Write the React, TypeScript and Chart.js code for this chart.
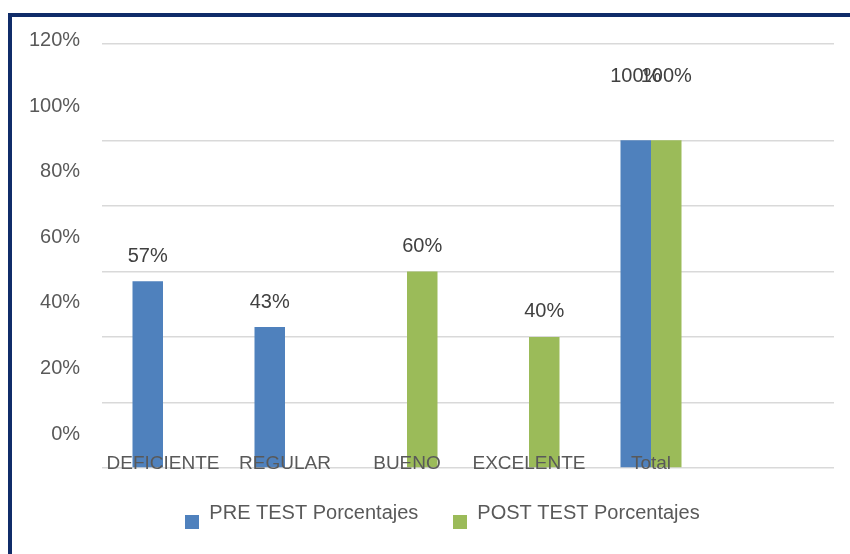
import React, { useEffect, useRef } from "react";
import { Chart, registerables } from "chart.js";

Chart.register(...registerables);

const categories = ["DEFICIENTE", "REGULAR", "BUENO", "EXCELENTE", "Total", ""];
const preTest = [0.57, 0.43, null, null, 1.0, null];
const postTest = [null, null, 0.6, 0.4, 1.0, null];
const seriesNames = ["PRE TEST Porcentajes", "POST TEST Porcentajes"];
const seriesColors = ["#4f81bd", "#9bbb59"];
const yTickValues = [0, 0.2, 0.4, 0.6, 0.8, 1.0, 1.2];
const yTickLabels = ["0%", "20%", "40%", "60%", "80%", "100%", "120%"];
const Y_MAX = 1.294;

const FONT = "'Liberation Sans', Arial, sans-serif";
const fmt = (v: number) => Math.round(v * 100) + "%";

function makeMarker(color: string) {
  const c = document.createElement("canvas");
  c.width = 14;
  c.height = 34;
  const g = c.getContext("2d")!;
  g.fillStyle = color;
  g.fillRect(0, 19, 14, 14);
  return c;
}

const dataLabels = {
  id: "dataLabels",
  afterDatasetsDraw(chart: any) {
    const ctx = chart.ctx;
    ctx.save();
    ctx.font = `20px ${FONT}`;
    ctx.fillStyle = "#404040";
    ctx.textAlign = "center";
    ctx.textBaseline = "middle";
    chart.data.datasets.forEach((ds: any, i: number) => {
      const meta = chart.getDatasetMeta(i);
      meta.data.forEach((bar: any, j: number) => {
        const v = ds.data[j];
        if (v == null) return;
        const gap = v >= 1 ? 64 : 25;
        ctx.fillText(fmt(v), bar.x, bar.y - gap);
      });
    });
    ctx.restore();
  },
};

export default function App() {
  const ref = useRef<HTMLCanvasElement>(null);
  useEffect(() => {
    const markers = seriesColors.map(makeMarker);
    const chart = new Chart(ref.current!, {
      type: "bar",
      data: {
        labels: categories,
        datasets: [
          { label: seriesNames[0], data: preTest, backgroundColor: seriesColors[0] },
          { label: seriesNames[1], data: postTest, backgroundColor: seriesColors[1] },
        ],
      },
      options: {
        animation: false,
        responsive: false,
        maintainAspectRatio: false,
        layout: { padding: { left: 39, right: 16, top: 27, bottom: 21 } },
        datasets: { bar: { categoryPercentage: 0.5, barPercentage: 1 } },
        scales: {
          x: {
            grid: { display: false, drawTicks: false },
            border: { display: false },
            ticks: {
              z: 1,
              mirror: true,
              padding: -7,
              color: "#595959",
              font: { family: FONT, size: 19 },
              maxRotation: 0,
              autoSkip: false,
            },
            afterFit: (s: any) => {
              s.height = 0;
              s.paddingLeft = 0;
              s.paddingRight = 0;
            },
          },
          y: {
            min: 0,
            max: Y_MAX,
            border: { display: false },
            grid: {
              drawTicks: false,
              lineWidth: 1.5,
              color: (c: any) => (c.index === yTickValues.length - 1 ? "rgba(0,0,0,0)" : "#d9d9d9"),
            },
            afterBuildTicks: (s: any) => {
              s.ticks = [...yTickValues, Y_MAX].map((v) => ({ value: v }));
            },
            afterFit: (s: any) => {
              s.width = 51;
              s.paddingTop = 0;
              s.paddingBottom = 0;
            },
            ticks: {
              autoSkip: false,
              mirror: true,
              crossAlign: "far",
              padding: -73,
              labelOffset: -34,
              color: "#595959",
              font: { family: FONT, size: 20 },
              callback: (_v: any, i: number) => yTickLabels[i] ?? "",
            },
          },
        },
        plugins: {
          tooltip: { enabled: false },
          legend: {
            position: "bottom",
            labels: {
              usePointStyle: true,
              boxWidth: 14,
              boxHeight: 14,
              padding: 35,
              color: "#595959",
              font: { family: FONT, size: 20 },
              generateLabels: (ch: any) =>
                (Chart.defaults.plugins.legend.labels as any).generateLabels(ch).map((l: any, i: number) => ({
                  ...l,
                  pointStyle: markers[i],
                })),
            },
          },
        },
      },
      plugins: [dataLabels],
    } as any);
    return () => chart.destroy();
  }, []);

  return (
    <div
      style={{
        position: "fixed",
        left: 8,
        top: 13,
        width: 842,
        height: 541,
        boxSizing: "border-box",
        borderTop: "4px solid #102c69",
        borderLeft: "4px solid #102c69",
        background: "#fff",
      }}
    >
      <canvas ref={ref} width={838} height={537} style={{ display: "block" }} />
    </div>
  );
}
